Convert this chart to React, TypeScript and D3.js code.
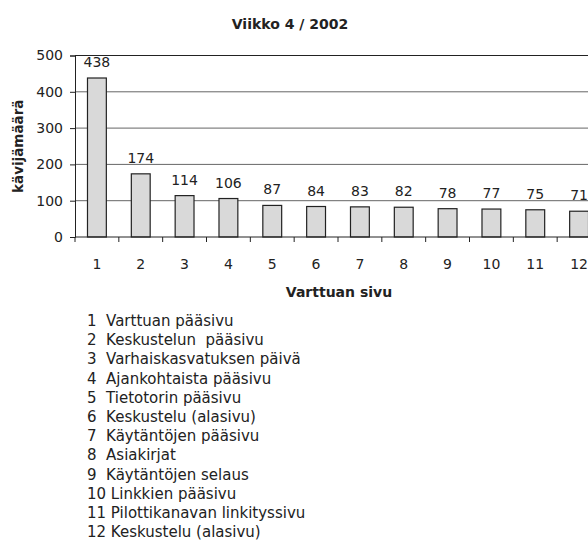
import React, { useRef, useEffect } from 'react';
import * as d3 from 'd3';

const categories = ['1', '2', '3', '4', '5', '6', '7', '8', '9', '10', '11', '12'];
const visitors = [438, 174, 114, 106, 87, 84, 83, 82, 78, 77, 75, 71];
const yTicks = [0, 100, 200, 300, 400, 500];
const pageNames = [
  'Varttuan pääsivu',
  'Keskustelun  pääsivu',
  'Varhaiskasvatuksen päivä',
  'Ajankohtaista pääsivu',
  'Tietotorin pääsivu',
  'Keskustelu (alasivu)',
  'Käytäntöjen pääsivu',
  'Asiakirjat',
  'Käytäntöjen selaus',
  'Linkkien pääsivu',
  'Pilottikanavan linkityssivu',
  'Keskustelu (alasivu)',
];

const FONT = '"DejaVu Sans", sans-serif';

const App = () => {
  const ref = useRef<SVGSVGElement>(null);

  useEffect(() => {
    const svg = d3.select(ref.current);
    svg.selectAll('*').remove();

    const left = 75, right = 601, top = 55.5, bottom = 237;

    const x = d3.scaleBand().domain(categories).range([left, right]).paddingInner(0.57).paddingOuter(0.285);
    const y = d3.scaleLinear().domain([0, 500]).range([bottom, top]);

    // gridlines
    svg.append('g')
      .selectAll('line')
      .data(yTicks.filter(t => t > 0))
      .join('line')
      .attr('x1', left).attr('x2', right)
      .attr('y1', d => y(d)).attr('y2', d => y(d))
      .attr('stroke', d => d === 500 ? '#222' : '#666')
      .attr('stroke-width', 1);

    // bars
    svg.append('g')
      .selectAll('rect')
      .data(visitors)
      .join('rect')
      .attr('x', (d, i) => x(categories[i])!)
      .attr('y', d => y(d))
      .attr('width', x.bandwidth())
      .attr('height', d => bottom - y(d))
      .attr('fill', '#d9d9d9')
      .attr('stroke', '#222')
      .attr('stroke-width', 1.2);

    // value labels
    svg.append('g')
      .selectAll('text')
      .data(visitors)
      .join('text')
      .attr('x', (d, i) => x(categories[i])! + x.bandwidth() / 2)
      .attr('y', d => y(d) - 11)
      .attr('text-anchor', 'middle')
      .style('font', `14px ${FONT}`)
      .attr('fill', '#222')
      .text(d => d);

    // y axis
    const yAxis = svg.append('g')
      .attr('transform', `translate(${left},0)`)
      .call(d3.axisLeft(y).tickValues(yTicks).tickSize(5).tickPadding(7));
    yAxis.selectAll('path, line').attr('stroke', '#222');
    yAxis.selectAll('text').style('font', `14px ${FONT}`).attr('fill', '#222');

    // x axis
    svg.append('line')
      .attr('x1', left).attr('x2', right)
      .attr('y1', bottom).attr('y2', bottom)
      .attr('stroke', '#222');
    const step = x.step();
    svg.append('g')
      .selectAll('line')
      .data(d3.range(categories.length + 1))
      .join('line')
      .attr('x1', i => left + i * step).attr('x2', i => left + i * step)
      .attr('y1', bottom).attr('y2', bottom + 5)
      .attr('stroke', '#222');
    svg.append('g')
      .selectAll('text')
      .data(categories)
      .join('text')
      .attr('x', d => x(d)! + x.bandwidth() / 2)
      .attr('y', 268.5)
      .attr('text-anchor', 'middle')
      .style('font', `14px ${FONT}`)
      .attr('fill', '#222')
      .text(d => d);

    // titles
    svg.append('text')
      .attr('x', 290).attr('y', 29)
      .attr('text-anchor', 'middle')
      .style('font', `bold 14px ${FONT}`)
      .attr('fill', '#222')
      .text('Viikko 4 / 2002');

    svg.append('text')
      .attr('x', 339).attr('y', 297)
      .attr('text-anchor', 'middle')
      .style('font', `bold 14px ${FONT}`)
      .attr('fill', '#222')
      .text('Varttuan sivu');

    svg.append('text')
      .attr('transform', `translate(23,${(top + bottom) / 2}) rotate(-90)`)
      .attr('text-anchor', 'middle')
      .style('font', `bold 13.5px ${FONT}`)
      .attr('fill', '#222')
      .text('kävijämäärä');

    // list of pages
    svg.append('g')
      .selectAll('text')
      .data(pageNames)
      .join('text')
      .attr('x', 87)
      .attr('y', (d, i) => 326 + i * 19.2)
      .style('font', `15px ${FONT}`)
      .style('white-space', 'pre')
      .attr('fill', '#222')
      .text((d, i) => `${categories[i]}${i < 9 ? '  ' : ' '}${d}`);
  }, []);

  return (
    <svg ref={ref} width={588} height={547}
      style={{ position: 'absolute', left: 0, top: 0, background: '#fff' }} />
  );
};

export default App;
